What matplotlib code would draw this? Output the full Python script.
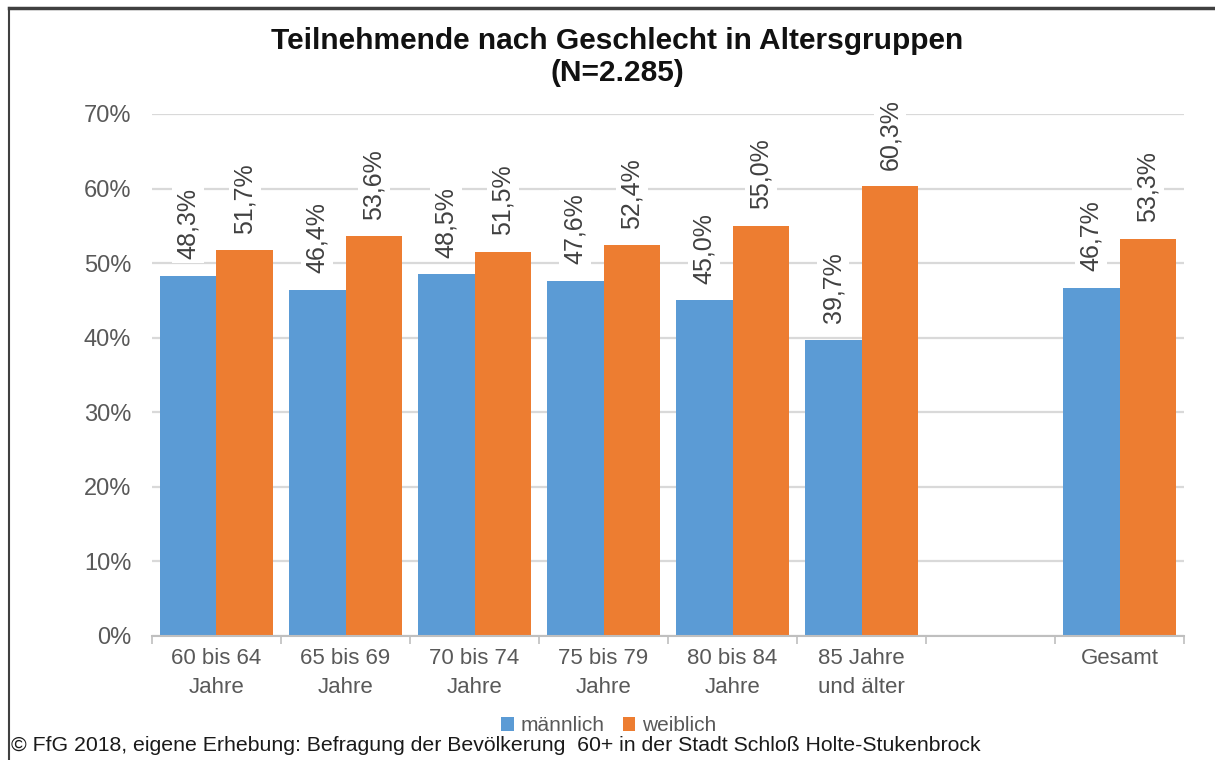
import numpy as np
import matplotlib.pyplot as plt
from matplotlib.lines import Line2D
from matplotlib.ticker import FixedLocator, PercentFormatter

plt.rcParams["font.family"] = ["Liberation Sans", "DejaVu Sans"]

CATEGORIES = ["60 bis 64\nJahre", "65 bis 69\nJahre", "70 bis 74\nJahre",
              "75 bis 79\nJahre", "80 bis 84\nJahre", "85 Jahre\nund älter",
              "", "Gesamt"]
MALE = [48.3, 46.4, 48.5, 47.6, 45.0, 39.7, None, 46.7]
FEMALE = [51.7, 53.6, 51.5, 52.4, 55.0, 60.3, None, 53.3]
SERIES = ["männlich", "weiblich"]

BLUE = "#5B9BD5"
ORANGE = "#ED7D31"
GRID = "#D9D9D9"
TEXT = "#595959"

fig = plt.figure(figsize=(12.15, 7.6), dpi=100)
ax = fig.add_axes([0.1251, 0.1632, 0.8494, 0.6868])

x = np.arange(len(CATEGORIES))
w = 0.44
idx = [i for i, v in enumerate(MALE) if v is not None]
male = np.array([MALE[i] for i in idx])
female = np.array([FEMALE[i] for i in idx])
xs = x[idx]

bm = ax.bar(xs - w / 2, male, w, color=BLUE, label=SERIES[0], zorder=2)
bf = ax.bar(xs + w / 2, female, w, color=ORANGE, label=SERIES[1], zorder=2)

# rotated value labels with a white box that cuts the gridlines
for bars in (bm, bf):
    for b in bars:
        v = b.get_height()
        ax.annotate(f"{v:.1f}%".replace(".", ","),
                    (b.get_x() + b.get_width() / 2, v),
                    xytext=(0, 12), textcoords="offset points",
                    rotation=90, ha="center", va="bottom",
                    fontsize=18, color="#404040", zorder=3,
                    bbox=dict(boxstyle="square,pad=0.15", fc="white", ec="none"))

ax.set_xlim(-0.5, len(CATEGORIES) - 0.5)
ax.set_ylim(0, 70)
ax.yaxis.set_major_locator(FixedLocator(np.arange(0, 71, 10)))
ax.yaxis.set_major_formatter(PercentFormatter(decimals=0))
ax.grid(axis="y", color=GRID, linewidth=1.6, zorder=0)
ax.set_axisbelow(True)

ax.set_xticks(x)
ax.set_xticklabels(CATEGORIES, fontsize=16, color=TEXT, linespacing=1.5)
ax.set_xticks(np.arange(-0.5, len(CATEGORIES), 1), minor=True)
ax.tick_params(axis="x", which="major", length=0, pad=9)
ax.tick_params(axis="x", which="minor", length=6, color="#BFBFBF", width=1.2)
ax.tick_params(axis="y", length=0, labelsize=17, labelcolor=TEXT, pad=15)

for s in ("top", "right", "left"):
    ax.spines[s].set_visible(False)
ax.spines["bottom"].set_color("#BFBFBF")
ax.spines["bottom"].set_linewidth(1.5)

fig.text(0.508, 0.925, "Teilnehmende nach Geschlecht in Altersgruppen\n(N=2.285)",
         ha="center", va="center", fontsize=21.5, fontweight="bold",
         linespacing=1.15, color="#111111")

fig.legend(handles=[bm, bf], labels=SERIES, loc="center",
           bbox_to_anchor=(0.501, 0.045), ncol=2, frameon=False,
           fontsize=15, labelcolor=TEXT, handlelength=0.6, handleheight=0.6,
           handletextpad=0.3, columnspacing=0.9)

fig.text(0.009, 0.019,
         "© FfG 2018, eigene Erhebung: Befragung der Bevölkerung  60+ in der Stadt Schloß Holte-Stukenbrock",
         ha="left", va="center", fontsize=15.3, color="#1A1A1A")

# frame lines (top and left) as in the source screenshot
fig.add_artist(Line2D([0.007, 1.0], [0.989, 0.989], color="#404040", linewidth=2.5,
                      transform=fig.transFigure))
fig.add_artist(Line2D([0.0075, 0.0075], [0.0, 0.989], color="#404040", linewidth=1.5,
                      transform=fig.transFigure))

fig.savefig("out.png", dpi=100, facecolor="white")
